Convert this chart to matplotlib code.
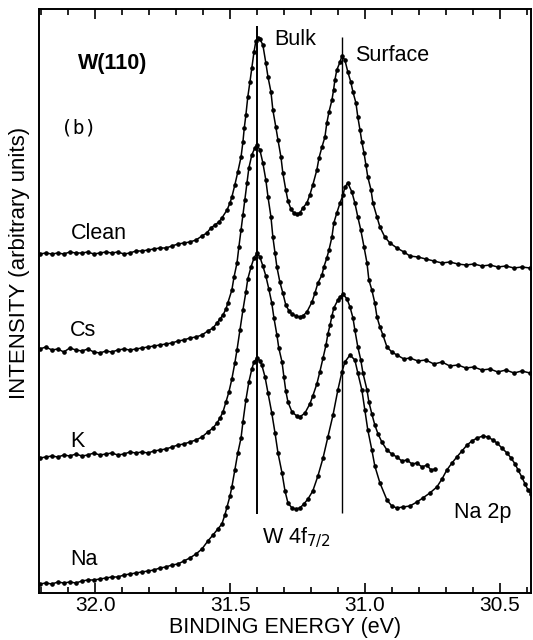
import matplotlib
matplotlib.use("Agg")
import matplotlib.pyplot as plt
from matplotlib.ticker import MultipleLocator, FormatStrFormatter

plt.rcParams['font.family'] = ['Liberation Sans', 'DejaVu Sans']

# binding energies (eV) of the flat low-energy-side baseline, shared by all spectra
base_e = [32.206, 32.184, 32.161, 32.139, 32.117, 32.095, 32.072, 32.050, 32.028, 32.006,
          31.983, 31.961, 31.939, 31.917, 31.894, 31.872, 31.850, 31.828, 31.805, 31.783,
          31.761, 31.739, 31.716, 31.694, 31.672, 31.650, 31.627, 31.605]
# baseline on the high side for clean / Cs
tail_e = [30.882, 30.856, 30.834, 30.804, 30.775, 30.745, 30.715, 30.686, 30.656, 30.626,
          30.597, 30.567, 30.537, 30.508, 30.478, 30.448, 30.419, 30.389]

# Clean
clean_e = base_e + [31.587, 31.572, 31.557, 31.542, 31.531, 31.512, 31.501, 31.494, 31.483, 31.472,
                    31.460, 31.453, 31.448, 31.442, 31.435, 31.427, 31.420, 31.412, 31.405, 31.397,
                    31.390, 31.379, 31.368, 31.360, 31.349, 31.342, 31.331, 31.323, 31.312, 31.305,
                    31.294, 31.286, 31.275, 31.264, 31.253, 31.242, 31.231, 31.216, 31.205, 31.194,
                    31.179, 31.171, 31.160, 31.149, 31.142, 31.134, 31.123, 31.117, 31.112, 31.105,
                    31.093, 31.086, 31.075, 31.064, 31.053, 31.045, 31.034, 31.027, 31.019, 31.012,
                    31.004, 30.997, 30.990, 30.978, 30.971, 30.956, 30.945, 30.927, 30.908] + tail_e
clean_i = [339, 340, 339, 340, 339, 341, 340, 340, 341, 339, 340, 341, 340, 341, 339, 340, 342, 342,
           343, 344, 345, 345, 347, 349, 350, 351, 353, 357,
           360, 365, 368, 371, 375, 383, 390, 396, 408, 421, 436, 451, 465, 478, 496, 511, 525, 541,
           552, 555, 554, 548, 530, 516, 501, 483, 466, 453, 436, 420, 403, 392, 384, 380, 379, 380,
           385, 390, 398, 408, 423, 435, 446, 456, 470, 481, 493, 503, 513, 523, 531, 537, 533, 521,
           511, 501, 490, 476, 463, 451, 440, 428, 416, 403, 390, 376, 366, 356, 350,
           345, 341, 337, 336, 334, 332, 330, 331, 329, 328, 329, 327, 328, 326, 327, 325, 326, 325]

# Cs
cs_e = base_e + [31.583, 31.564, 31.549, 31.538, 31.527, 31.516, 31.509, 31.494, 31.486, 31.475,
                 31.468, 31.460, 31.453, 31.446, 31.438, 31.431, 31.420, 31.409, 31.401, 31.390,
                 31.379, 31.368, 31.360, 31.349, 31.342, 31.334, 31.327, 31.316, 31.305, 31.294,
                 31.282, 31.271, 31.257, 31.242, 31.231, 31.216, 31.197, 31.186, 31.175, 31.160,
                 31.153, 31.142, 31.134, 31.123, 31.116, 31.105, 31.093, 31.082, 31.075, 31.064,
                 31.049, 31.038, 31.027, 31.016, 31.004, 30.993, 30.986, 30.975, 30.964, 30.956,
                 30.945, 30.934, 30.919, 30.901] + tail_e
cs_i = [244, 246, 243, 244, 241, 245, 243, 242, 244, 241, 240, 242, 241, 243, 244, 243, 244, 245,
        246, 247, 248, 249, 250, 252, 253, 255, 256, 258,
        262, 265, 270, 274, 278, 284, 290, 303, 316, 330, 346, 363, 378, 393, 410, 425, 438, 445,
        448, 443, 430, 413, 396, 376, 356, 340, 326, 311, 300, 288, 282, 279, 277, 276, 277, 281,
        291, 300, 310, 318, 326, 335, 343, 356, 370, 380, 390, 398, 406, 410, 401, 390, 376, 363,
        346, 330, 313, 303, 290, 276, 266, 258, 246, 241,
        238, 234, 235, 232, 233, 229, 231, 227, 228, 225, 226, 223, 224, 221, 223, 220, 222, 220]

# K
k_e = base_e + [31.583, 31.564, 31.549, 31.538, 31.527, 31.516, 31.505, 31.494, 31.483, 31.475,
                31.464, 31.453, 31.442, 31.435, 31.423, 31.412, 31.401, 31.390, 31.379, 31.368,
                31.357, 31.346, 31.338, 31.327, 31.320, 31.308, 31.301, 31.294, 31.286, 31.271,
                31.253, 31.242, 31.223, 31.205, 31.194, 31.179, 31.168, 31.156, 31.145, 31.138,
                31.130, 31.123, 31.116, 31.101, 31.093, 31.082, 31.067, 31.056, 31.045, 31.038,
                31.027, 31.016, 31.008, 30.993, 30.986, 30.975, 30.964, 30.952, 30.938, 30.919,
                30.901, 30.882, 30.864, 30.845, 30.826, 30.808, 30.789, 30.771, 30.756, 30.741]
k_i = [135, 136, 137, 136, 138, 137, 139, 137, 138, 140, 138, 139, 140, 138, 139, 141, 140, 141,
       140, 142, 143, 144, 146, 148, 149, 151, 153, 156,
       161, 165, 170, 175, 181, 191, 201, 214, 230, 243, 263, 283, 301, 314, 326, 335, 340, 336,
       327, 317, 304, 290, 275, 258, 245, 231, 216, 202, 191, 181, 177, 176, 180, 189, 197, 209,
       221, 235, 248, 259, 268, 277, 285, 293, 296, 299, 294, 286, 275, 263, 246, 233, 220, 203,
       191, 179, 168, 159, 151, 143, 139, 136, 132, 133, 129, 130, 126, 128, 123, 124]

# Na (with the Na 2p peak on the right)
na_e = base_e + [31.583, 31.564, 31.546, 31.531, 31.520, 31.512, 31.501, 31.494, 31.483, 31.472,
                 31.460, 31.453, 31.442, 31.431, 31.420, 31.412, 31.401, 31.390, 31.383, 31.371,
                 31.360, 31.346, 31.334, 31.323, 31.308, 31.297, 31.286, 31.271, 31.257, 31.242,
                 31.227, 31.212, 31.194, 31.175, 31.156, 31.138, 31.119, 31.101, 31.086, 31.075,
                 31.056, 31.038, 31.027, 31.012, 31.001, 30.990, 30.975, 30.964, 30.945, 30.919,
                 30.901, 30.882, 30.860, 30.834, 30.808, 30.786, 30.760, 30.734, 30.715, 30.697,
                 30.678, 30.660, 30.641, 30.622, 30.604, 30.585, 30.563, 30.545, 30.526, 30.511,
                 30.493, 30.474, 30.459, 30.444, 30.433, 30.419, 30.407, 30.396, 30.385]
na_i = [9, 10, 9, 11, 10, 11, 10, 12, 13, 13, 14, 15, 16, 16, 18, 19, 20, 21, 22, 23, 25, 26, 28,
        29, 32, 35, 39, 44,
        52, 58, 64, 69, 78, 86, 97, 106, 123, 140, 155, 171, 193, 211, 224, 231, 235, 232, 228, 216,
        200, 180, 160, 140, 120, 102, 90, 85, 84, 85, 89, 94, 102, 117, 135, 156, 178, 203, 221, 231,
        238, 233, 220, 203, 183, 163, 143, 127, 110, 93, 87, 85, 86, 87, 91, 95, 100, 106, 114, 123,
        130, 136, 142, 148, 152, 155, 157, 156, 153, 150, 145, 140, 135, 129, 123, 116, 109, 103, 99]

# peak markers (eV) and their vertical extent
bulk_e, bulk_span = 31.399, (79, 567)
surface_e, surface_span = 31.086, (80, 556)

fig = plt.figure(figsize=(5.33, 6.4), dpi=100)
ax = fig.add_axes([39 / 533, 47 / 640, 492 / 533, 584 / 640])

for e, i in [(clean_e, clean_i), (cs_e, cs_i), (k_e, k_i), (na_e, na_i)]:
    ax.plot(e, i, color="black", lw=1.1, marker="o", ms=2.3, mfc="black", mec="black")

ax.vlines(bulk_e, bulk_span[0], bulk_span[1], color="black", lw=1.4)
ax.vlines(surface_e, surface_span[0], surface_span[1], color="black", lw=1.0)

ax.set_xlim(32.209, 30.385)
ax.set_ylim(0, 584)
ax.xaxis.set_major_locator(MultipleLocator(0.5))
ax.xaxis.set_minor_locator(MultipleLocator(0.1))
ax.xaxis.set_major_formatter(FormatStrFormatter("%.1f"))
ax.tick_params(axis="x", which="both", direction="in", top=True, width=1.2, labelsize=15, pad=2)
ax.tick_params(axis="x", which="major", length=7)
ax.tick_params(axis="x", which="minor", length=4.3)
ax.tick_params(axis="y", left=False, labelleft=False)
for s in ax.spines.values():
    s.set_linewidth(1.4)

# labels inside the plot
tx = ax.transAxes
ax.text(0.079, 0.906, "W(110)", transform=tx, fontsize=15.5, fontweight="bold", va="center")
ax.text(0.045, 0.796, "(b)", transform=tx, fontsize=14, family="DejaVu Sans Mono", va="center")
ax.text(0.478, 0.947, "Bulk", transform=tx, fontsize=15.5, va="center")
ax.text(0.642, 0.920, "Surface", transform=tx, fontsize=15.5, va="center")
ax.text(0.065, 0.615, "Clean", transform=tx, fontsize=15.5, va="center")
ax.text(0.063, 0.450, "Cs", transform=tx, fontsize=15.5, va="center")
ax.text(0.063, 0.260, "K", transform=tx, fontsize=15.5, va="center")
ax.text(0.063, 0.058, "Na", transform=tx, fontsize=15.5, va="center")
ax.text(0.453, 0.094, r"W 4f$_{7/2}$", transform=tx, fontsize=15.5, va="center")
ax.text(0.843, 0.137, "Na 2p", transform=tx, fontsize=15.5, va="center")

fig.text(285 / 533, 1 - 628 / 640, "BINDING ENERGY (eV)", fontsize=15.5, ha="center", va="center")
fig.text(19.5 / 533, 1 - 263 / 640, "INTENSITY (arbitrary units)", fontsize=16,
         rotation=90, ha="center", va="center")

fig.savefig("out.png", dpi=100)
